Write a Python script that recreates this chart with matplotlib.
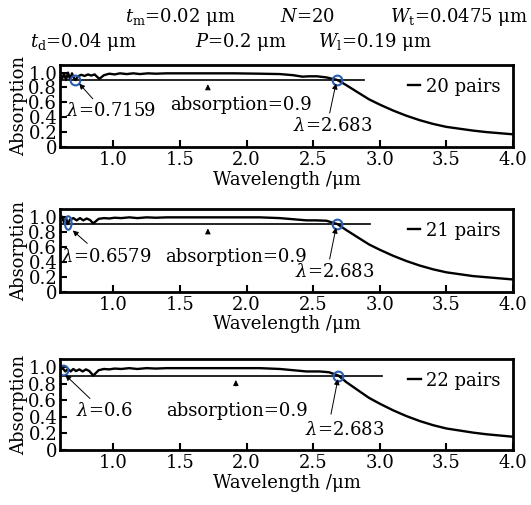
import numpy as np
import matplotlib.pyplot as plt
from matplotlib.patches import Ellipse

plt.rcParams['font.family'] = 'DejaVu Serif'
plt.rcParams['mathtext.fontset'] = 'dejavuserif'

# wavelength (um) and absorption
wl20 = [0.60, 0.615, 0.63, 0.645, 0.66, 0.675, 0.69, 0.70, 0.7159, 0.735, 0.76, 0.785, 0.81, 0.835,
        0.86, 0.895, 0.93, 0.97, 1.01, 1.05, 1.10, 1.15, 1.20, 1.26, 1.32, 1.40, 1.50, 1.70, 1.90,
        2.10, 2.25, 2.35, 2.42, 2.47, 2.53, 2.60, 2.683, 2.75, 2.83, 2.92, 3.00, 3.10, 3.20, 3.30,
        3.40, 3.50, 3.60, 3.70, 3.80, 3.90, 4.00]
ab20 = [0.98, 0.91, 0.99, 0.90, 1.00, 0.91, 0.99, 0.94, 0.90, 0.95, 0.97, 0.955, 0.975, 0.96,
        0.975, 0.915, 0.965, 0.985, 0.975, 0.99, 0.98, 0.99, 0.98, 0.99, 0.985, 0.99, 0.99, 0.99, 0.99,
        0.985, 0.98, 0.965, 0.945, 0.95, 0.95, 0.935, 0.90, 0.83, 0.74, 0.64, 0.57, 0.49, 0.42, 0.36,
        0.31, 0.27, 0.245, 0.22, 0.20, 0.185, 0.17]

wl21 = [0.60, 0.615, 0.63, 0.645, 0.6579, 0.675, 0.70, 0.725, 0.75, 0.775, 0.80, 0.825, 0.85,
        0.89, 0.93, 0.97, 1.01, 1.06, 1.12, 1.18, 1.25, 1.32, 1.40, 1.50, 1.70, 1.90, 2.10, 2.25,
        2.35, 2.45, 2.52, 2.60, 2.683, 2.75, 2.83, 2.92, 3.00, 3.10, 3.20, 3.30, 3.40, 3.50, 3.60,
        3.70, 3.80, 3.90, 4.00]
ab21 = [0.97, 1.00, 0.92, 0.99, 0.90, 0.96, 0.98, 0.95, 0.98, 0.95, 0.975, 0.955, 0.91,
        0.97, 0.98, 0.975, 0.985, 0.98, 0.99, 0.98, 0.99, 0.985, 0.99, 0.99, 0.99, 0.99, 0.99, 0.98,
        0.965, 0.95, 0.95, 0.945, 0.90, 0.82, 0.73, 0.63, 0.56, 0.48, 0.41, 0.35, 0.30, 0.26, 0.235,
        0.21, 0.195, 0.18, 0.165]

wl22 = [0.60, 0.62, 0.64, 0.66, 0.68, 0.70, 0.72, 0.745, 0.77, 0.795, 0.82, 0.85, 0.89, 0.93,
        0.97, 1.01, 1.06, 1.12, 1.18, 1.25, 1.32, 1.40, 1.50, 1.70, 1.90, 2.10, 2.25, 2.35, 2.45,
        2.55, 2.62, 2.69, 2.75, 2.83, 2.92, 3.00, 3.10, 3.20, 3.30, 3.40, 3.50, 3.60, 3.70, 3.80,
        3.90, 4.00]
ab22 = [0.97, 0.99, 0.95, 0.98, 0.95, 0.98, 0.955, 0.975, 0.95, 0.975, 0.955, 0.90, 0.965, 0.98,
        0.975, 0.985, 0.98, 0.99, 0.98, 0.99, 0.985, 0.99, 0.99, 0.99, 0.99, 0.99, 0.98, 0.965, 0.95,
        0.95, 0.94, 0.90, 0.82, 0.73, 0.63, 0.56, 0.48, 0.41, 0.35, 0.30, 0.26, 0.235, 0.21, 0.19,
        0.175, 0.16]

pairs = ['20 pairs', '21 pairs', '22 pairs']
lam_short = [0.7159, 0.6579, 0.6]
lam_long = 2.683
level = 0.9
line_end = [2.88, 2.93, 3.02]

yticks = [0, 0.2, 0.4, 0.6, 0.8, 1.0]
ylabels = ['0', '0.2', '0.4', '0.6', '0.8', '1.0']
xticks = [1.0, 1.5, 2.0, 2.5, 3.0, 3.5, 4.0]

fig = plt.figure(figsize=(5.31, 5.05), dpi=100)
# axes boxes in figure fraction [left, bottom, width, height]
boxes = [[0.113, 0.709, 0.853, 0.162],
         [0.113, 0.422, 0.853, 0.164],
         [0.113, 0.109, 0.853, 0.180]]

curves = [(wl20, ab20), (wl21, ab21), (wl22, ab22)]
short_text = [(0.98, 0.48), (0.95, 0.47), (0.93, 0.47)]
short_tip = [(0.73, 0.88), (0.68, 0.84), (0.625, 0.93)]
short_tail = [(0.86, 0.62), (0.82, 0.62), (0.84, 0.60)]
abs_text = [(1.96, 0.57), (1.92, 0.46), (1.93, 0.47)]
abs_arrow_x = [1.71, 1.71, 1.92]
long_text = [(2.65, 0.28), (2.66, 0.26), (2.74, 0.24)]
long_tip = [(2.676, 0.89), (2.676, 0.89), (2.69, 0.89)]
long_tail = [(2.62, 0.42), (2.62, 0.40), (2.63, 0.40)]

fs = 13
for i in range(3):
    ax = fig.add_axes(boxes[i])
    x, y = curves[i]
    ax.plot(x, y, color='black', lw=1.7, label=pairs[i])
    ax.plot([0.6, line_end[i]], [level, level], color='black', lw=1.2)

    # marked crossing points
    if i == 1:
        ax.add_patch(Ellipse((0.662, 0.915), 0.05, 0.18, fill=False, ec='#2a5db0', lw=1.5, zorder=5))
    else:
        ym = level if i == 0 else 0.97
        ax.plot(lam_short[i] + (0.02 if i == 2 else 0), ym, 'o', mfc='none', mec='#2a5db0', ms=7, mew=1.5)
    ax.plot(lam_long + (0.005 if i == 2 else 0), level, 'o', mfc='none', mec='#2a5db0', ms=7, mew=1.5)

    # annotations
    ax.annotate('', xy=short_tip[i], xytext=short_tail[i],
                arrowprops=dict(arrowstyle='-|>', color='black', lw=0.7, mutation_scale=8))
    ax.text(short_text[i][0], short_text[i][1], r'$\lambda$=%g' % lam_short[i],
            fontsize=fs, ha='center', va='center')
    ax.annotate('', xy=(abs_arrow_x[i], 0.88), xytext=(abs_arrow_x[i], 0.74),
                arrowprops=dict(arrowstyle='-|>', color='black', lw=0.7, mutation_scale=8))
    ax.text(abs_text[i][0], abs_text[i][1], 'absorption=0.9', fontsize=fs, ha='center', va='center')
    ax.annotate('', xy=long_tip[i], xytext=long_tail[i],
                arrowprops=dict(arrowstyle='-|>', color='black', lw=0.7, mutation_scale=8))
    ax.text(long_text[i][0], long_text[i][1], r'$\lambda$=2.683', fontsize=fs, ha='center', va='center')

    ax.legend(loc='upper right', frameon=False, fontsize=fs, handlelength=0.7,
              handletextpad=0.3, borderaxespad=0.3)

    ax.set_xlim(0.6, 4.0)
    ax.set_ylim(0, 1.1)
    ax.set_xticks(xticks)
    ax.set_xticklabels(['%.1f' % t for t in xticks])
    ax.set_yticks(yticks)
    ax.set_yticklabels(ylabels)
    ax.tick_params(direction='in', length=5, width=1.5, labelsize=fs, pad=3)
    ax.tick_params(axis='y', pad=2)
    for s in ax.spines.values():
        s.set_linewidth(2)
    ax.set_xlabel('Wavelength /μm', fontsize=fs, labelpad=1)
    ax.set_ylabel('Absorption', fontsize=fs, labelpad=0)

# parameter line at the top
fig.text(125 / 531, 1 - 17 / 505, r'$t_\mathrm{m}$=0.02 μm', fontsize=fs, va='center')
fig.text(280 / 531, 1 - 17 / 505, r'$N$=20', fontsize=fs, va='center')
fig.text(528 / 531, 1 - 17 / 505, r'$W_\mathrm{t}$=0.0475 μm', fontsize=fs, va='center', ha='right')
fig.text(30 / 531, 1 - 42 / 505, r'$t_\mathrm{d}$=0.04 μm', fontsize=fs, va='center')
fig.text(195 / 531, 1 - 42 / 505, r'$P$=0.2 μm', fontsize=fs, va='center')
fig.text(318 / 531, 1 - 42 / 505, r'$W_\mathrm{l}$=0.19 μm', fontsize=fs, va='center')

fig.savefig('out.png', dpi=100)
